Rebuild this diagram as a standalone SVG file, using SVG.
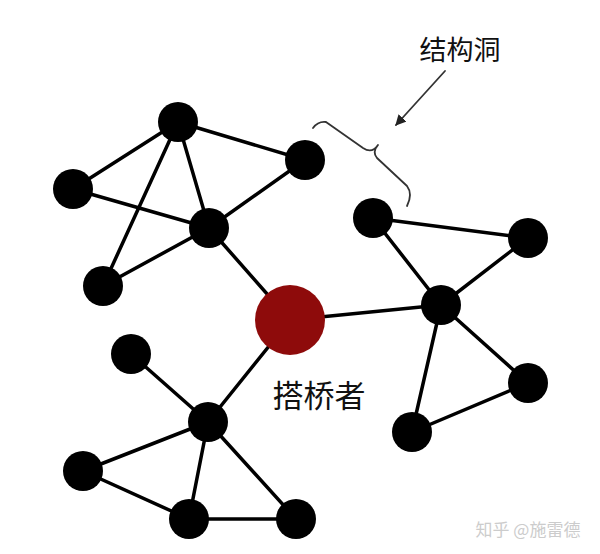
<svg xmlns="http://www.w3.org/2000/svg" width="600" height="554" viewBox="0 0 600 554">
<style>
.e{stroke:#000;stroke-width:3.5;fill:none;stroke-linecap:round}
.n{fill:#000}
.b{fill:#8e0b0b}
.t{font-family:"Noto Sans CJK SC","Noto Sans CJK JP",sans-serif;fill:#111}
.thin{stroke:#333;stroke-width:1.8;fill:none;stroke-linecap:round;stroke-linejoin:round}
</style>
<defs>
<marker id="ah" viewBox="0 0 10 10" refX="9" refY="5" markerWidth="6" markerHeight="6" orient="auto" markerUnits="strokeWidth">
<path d="M0,0 L10,5 L0,10 z" fill="#222"/>
</marker>
</defs>
<rect width="600" height="554" fill="#fff"/>
<g id="connectors">
<line class="e" x1="178" y1="122" x2="305" y2="160"/>
<line class="e" x1="178" y1="122" x2="73" y2="189"/>
<line class="e" x1="178" y1="122" x2="209" y2="228"/>
<line class="e" x1="178" y1="122" x2="103" y2="286"/>
<line class="e" x1="73" y1="189" x2="209" y2="228"/>
<line class="e" x1="209" y1="228" x2="103" y2="286"/>
<line class="e" x1="209" y1="228" x2="305" y2="160"/>
<line class="e" x1="209" y1="228" x2="290" y2="320"/>
<line class="e" x1="290" y1="320" x2="441" y2="305"/>
<line class="e" x1="290" y1="320" x2="208" y2="422"/>
<line class="e" x1="373" y1="218" x2="528" y2="238"/>
<line class="e" x1="373" y1="218" x2="441" y2="305"/>
<line class="e" x1="528" y1="238" x2="441" y2="305"/>
<line class="e" x1="441" y1="305" x2="528" y2="383"/>
<line class="e" x1="441" y1="305" x2="412" y2="432"/>
<line class="e" x1="528" y1="383" x2="412" y2="432"/>
<line class="e" x1="131" y1="354" x2="208" y2="422"/>
<line class="e" x1="208" y1="422" x2="83" y2="471"/>
<line class="e" x1="208" y1="422" x2="189" y2="519"/>
<line class="e" x1="208" y1="422" x2="296" y2="519"/>
<line class="e" x1="83" y1="471" x2="189" y2="519"/>
<line class="e" x1="189" y1="519" x2="296" y2="519"/>
</g>
<g id="nA"><circle class="n" cx="178" cy="122" r="20"/></g>
<g id="nB"><circle class="n" cx="305" cy="160" r="20"/></g>
<g id="nC"><circle class="n" cx="73" cy="189" r="20"/></g>
<g id="nD"><circle class="n" cx="209" cy="228" r="20"/></g>
<g id="nE"><circle class="n" cx="103" cy="286" r="20"/></g>
<g id="bridge"><circle class="b" cx="290" cy="320" r="35"/></g>
<g id="nF"><circle class="n" cx="373" cy="218" r="20"/></g>
<g id="nG"><circle class="n" cx="528" cy="238" r="20"/></g>
<g id="nH"><circle class="n" cx="441" cy="305" r="20"/></g>
<g id="nI"><circle class="n" cx="528" cy="383" r="20"/></g>
<g id="nJ"><circle class="n" cx="412" cy="432" r="20"/></g>
<g id="nK"><circle class="n" cx="131" cy="354" r="20"/></g>
<g id="nL"><circle class="n" cx="208" cy="422" r="20"/></g>
<g id="nM"><circle class="n" cx="83" cy="471" r="20"/></g>
<g id="nN"><circle class="n" cx="189" cy="519" r="20"/></g>
<g id="nO"><circle class="n" cx="296" cy="519" r="20"/></g>
<g id="hole">
<path class="thin" d="M313,128 Q318,121 326,122 L363,148 Q372,154 378,145 Q372,152 377,158 L407,186 Q413,194 407,206"/>
<line class="thin" x1="445" y1="71" x2="396" y2="125" marker-end="url(#ah)"/>
<text class="t" x="460" y="60" font-size="27" text-anchor="middle">结构洞</text>
</g>
<g id="bridge-label">
<text class="t" x="319" y="407" font-size="31" text-anchor="middle">搭桥者</text>
</g>
<text x="528" y="536" font-family="Noto Sans CJK SC,sans-serif" font-size="17" fill="#ccc" text-anchor="middle">知乎 @施雷德</text>
</svg>
